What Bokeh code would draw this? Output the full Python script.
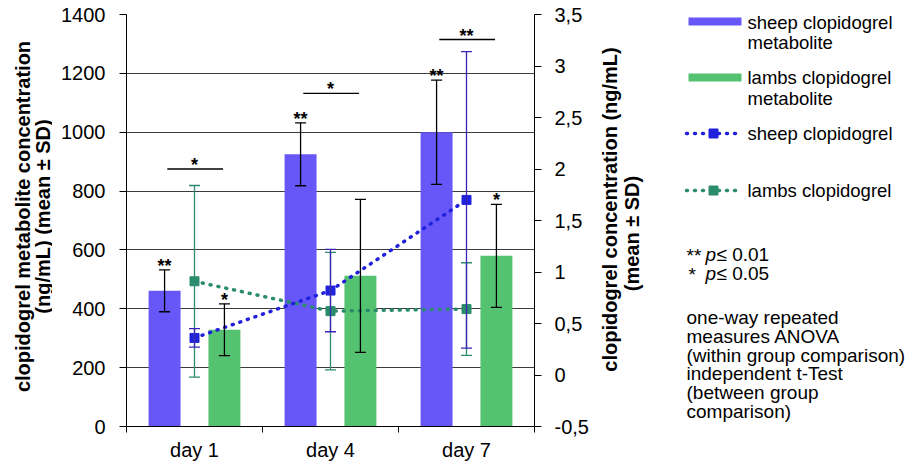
from math import pi
from bokeh.plotting import figure
from bokeh.models import (ColumnDataSource, Range1d, LinearAxis, FixedTicker, Whisker,
                          TeeHead, Label, CustomJSTickFormatter)
from bokeh.layouts import row
from bokeh.embed import file_html
from bokeh.resources import INLINE
from bokeh.core.properties import value

# ---------------- data ----------------
days = ["day 1", "day 4", "day 7"]
sheep_metabolite = [461, 925, 1000]
sheep_metabolite_sd = [71, 107, 177]
lambs_metabolite = [329, 512, 580]
lambs_metabolite_sd = [88, 260, 175]
sheep_clopidogrel = [0.36, 0.82, 1.70]
sheep_clopidogrel_sd = [0.09, 0.40, 1.44]
lambs_clopidogrel = [0.91, 0.62, 0.64]
lambs_clopidogrel_sd = [0.93, 0.57, 0.45]
sheep_metabolite_sig = ["**", "**", "**"]
lambs_metabolite_sig = ["*", "", "*"]
between_sig = ["*", "*", "**"]
between_sig_level = [875, 1132, 1315]
left_ticks = [0, 200, 400, 600, 800, 1000, 1200, 1400]
right_ticks = [-0.5, 0, 0.5, 1, 1.5, 2, 2.5, 3, 3.5]
left_title = ["clopidogrel metabolite concentration", "(ng/mL) (mean ± SD)"]
right_title = ["clopidogrel concentration (ng/mL)", "(mean ± SD)"]

# ---------------- style ----------------
FNAME = "Liberation Sans"
FONT = value(FNAME)
SHEEP_BAR = "#6757F8"
LAMB_BAR = "#55C271"
SHEEP_LINE = "#2121DD"
LAMB_LINE = "#2A8C6C"
SHEEP_ERR = "#3A24B8"
LAMB_ERR = "#2E8B72"
OFF = 0.22
BAR_W = 0.235

# page-pixel geometry of the plotting frame
FRAME_L, FRAME_R, FRAME_T, FRAME_B = 127, 535, 15, 427
PAGE_X0, PAGE_Y0 = 1, 1
H = 466
B_TOP = FRAME_T - PAGE_Y0
B_BOTTOM = H - B_TOP - (FRAME_B - FRAME_T)
W_LEFT = 52
B_LEFT = FRAME_L - PAGE_X0 - W_LEFT
B_RIGHT = 62
W_MAIN = B_LEFT + (FRAME_R - FRAME_L) + B_RIGHT

centers = [i + 0.5 for i in range(len(days))]

src = ColumnDataSource(dict(
    x=centers,
    xs=[c - OFF for c in centers],
    xl=[c + OFF for c in centers],
    xb0=[c - 0.2 for c in centers],
    xb1=[c + 0.21 for c in centers],
    sm=sheep_metabolite,
    sm_up=[v + s for v, s in zip(sheep_metabolite, sheep_metabolite_sd)],
    sm_lo=[v - s for v, s in zip(sheep_metabolite, sheep_metabolite_sd)],
    lm=lambs_metabolite,
    lm_up=[v + s for v, s in zip(lambs_metabolite, lambs_metabolite_sd)],
    lm_lo=[v - s for v, s in zip(lambs_metabolite, lambs_metabolite_sd)],
    sc=sheep_clopidogrel,
    sc_up=[v + s for v, s in zip(sheep_clopidogrel, sheep_clopidogrel_sd)],
    sc_lo=[v - s for v, s in zip(sheep_clopidogrel, sheep_clopidogrel_sd)],
    lc=lambs_clopidogrel,
    lc_up=[v + s for v, s in zip(lambs_clopidogrel, lambs_clopidogrel_sd)],
    lc_lo=[v - s for v, s in zip(lambs_clopidogrel, lambs_clopidogrel_sd)],
    sm_sig=sheep_metabolite_sig,
    lm_sig=lambs_metabolite_sig,
    b_sig=between_sig,
    b_lvl=between_sig_level,
))


def panel(x0, w):
    """A plain figure whose frame uses page-pixel coordinates (for titles, legend, notes)."""
    f = figure(width=w, height=H, x_range=Range1d(x0, x0 + w), y_range=Range1d(FRAME_B, FRAME_T),
               output_backend="svg", toolbar_location=None,
               min_border_left=0, min_border_right=0, min_border_top=B_TOP,
               min_border_bottom=B_BOTTOM)
    f.axis.visible = False
    f.outline_line_color = None
    f.grid.visible = False
    f.background_fill_color = "white"
    f.border_fill_color = "white"
    return f


def title_label(f, xx, yy, t):
    f.add_layout(Label(x=xx, y=yy, text=t, angle=pi / 2, text_align="center",
                       text_baseline="middle", text_font=FNAME, text_font_style="bold",
                       text_font_size="20px", text_color="black"))


# ---------------- left panel: y-axis title ----------------
left = panel(PAGE_X0, W_LEFT)
title_label(left, 23, 217, left_title[0])
title_label(left, 43, 217, left_title[1])

# ---------------- main plot ----------------
p = figure(width=W_MAIN, height=H,
           x_range=Range1d(0, len(days)), y_range=Range1d(left_ticks[0], left_ticks[-1]),
           output_backend="svg", toolbar_location=None,
           min_border_left=B_LEFT, min_border_right=B_RIGHT,
           min_border_top=B_TOP, min_border_bottom=B_BOTTOM)
p.outline_line_color = None
p.background_fill_color = "white"
p.border_fill_color = "white"
p.extra_y_ranges = {"right": Range1d(right_ticks[0], right_ticks[-1])}

p.xgrid.visible = False
p.ygrid.grid_line_color = "#3c3c3c"
p.ygrid.grid_line_width = 1


def style_axis(ax, standoff):
    ax.axis_label = None
    ax.major_label_standoff = standoff
    ax.major_label_text_font = FNAME
    ax.major_label_text_font_size = "20px"
    ax.major_label_text_color = "black"
    ax.axis_line_color = "black"
    ax.major_tick_line_color = "black"


ya = p.yaxis[0]
ya.ticker = FixedTicker(ticks=left_ticks)
ya.major_tick_out = 7
ya.major_tick_in = 0
ya.minor_tick_line_color = None
style_axis(ya, 14)

xa = p.xaxis[0]
xa.ticker = FixedTicker(ticks=centers, minor_ticks=list(range(len(days) + 1)))
xa.formatter = CustomJSTickFormatter(args=dict(days=days), code="return days[Math.floor(tick)];")
xa.major_tick_out = 0
xa.major_tick_in = 0
xa.minor_tick_out = 6
xa.minor_tick_in = 0
style_axis(xa, 6)
xa.minor_tick_line_color = "black"

ra = LinearAxis(y_range_name="right", ticker=FixedTicker(ticks=right_ticks),
                formatter=CustomJSTickFormatter(code="return tick.toString().replace('.', ',');"))
ra.major_tick_out = 7
ra.major_tick_in = 0
ra.minor_tick_line_color = None
style_axis(ra, 13)
p.add_layout(ra, "right")

p.vbar(x="xs", top="sm", bottom=0, width=BAR_W, source=src, fill_color=SHEEP_BAR, line_color=None)
p.vbar(x="xl", top="lm", bottom=0, width=BAR_W, source=src, fill_color=LAMB_BAR, line_color=None)

p.line(x="x", y="lc", source=src, y_range_name="right", line_color=LAMB_LINE, line_width=3.5,
       line_dash="1 7", line_cap="round")
p.line(x="x", y="sc", source=src, y_range_name="right", line_color=SHEEP_LINE, line_width=3.5,
       line_dash="1 7", line_cap="round")


def whisk(base, up, lo, color, rng=None, head=11):
    kw = dict(source=src, base=base, upper=up, lower=lo, line_color=color, line_width=1.3,
              upper_head=TeeHead(size=head, line_color=color, line_width=1.3),
              lower_head=TeeHead(size=head, line_color=color, line_width=1.3),
              level="overlay")
    if rng is not None:
        kw["y_range_name"] = rng
    p.add_layout(Whisker(**kw))


whisk("xs", "sm_up", "sm_lo", "black")
whisk("xl", "lm_up", "lm_lo", "black")
whisk("x", "lc_up", "lc_lo", LAMB_ERR, "right")
whisk("x", "sc_up", "sc_lo", SHEEP_ERR, "right")

p.scatter(x="x", y="lc", source=src, y_range_name="right", marker="square", size=9,
          fill_color=LAMB_LINE, line_color=LAMB_LINE, level="overlay")
p.scatter(x="x", y="sc", source=src, y_range_name="right", marker="square", size=9,
          fill_color=SHEEP_LINE, line_color=SHEEP_LINE, level="overlay")

star_kw = dict(text_font=FONT, text_font_size="18px", text_font_style="bold", text_align="center",
               text_baseline="alphabetic", y_offset=-4, text_color="black")
p.text(x="xs", y="sm_up", text="sm_sig", source=src, **star_kw)
p.text(x="xl", y="lm_up", text="lm_sig", source=src, **star_kw)
p.segment(x0="xb0", x1="xb1", y0="b_lvl", y1="b_lvl", source=src, line_color="black", line_width=1.3)
p.text(x="x", y="b_lvl", text="b_sig", source=src, **star_kw)

# ---------------- right panel: right title, legend, notes ----------------
X0 = PAGE_X0 + W_LEFT + W_MAIN
side = panel(X0, 908 - X0)
title_label(side, 610, 210, right_title[0])
title_label(side, 632, 234, right_title[1])

side.quad(left=[689, 689], right=[742, 742], top=[18, 74], bottom=[26, 82],
          fill_color=[SHEEP_BAR, LAMB_BAR], line_color=None)
for yy, c in [(134, SHEEP_LINE), (191, LAMB_LINE)]:
    side.line(x=[687, 738], y=[yy, yy], line_color=c, line_width=3.5, line_dash="1 7", line_cap="round")
    side.scatter(x=[714], y=[yy], marker="square", size=9, fill_color=c, line_color=c)

leg_text = ["sheep clopidogrel", "metabolite", "lambs clopidogrel", "metabolite",
            "sheep clopidogrel", "lambs clopidogrel"]
side.text(x=[748] * 6, y=[23, 43, 78, 99, 134, 191], text=leg_text, text_font=FONT,
          text_font_size="18.5px", text_align="left", text_baseline="middle", text_color="black")

note_kw = dict(text_font=FONT, text_font_size="19px", text_align="left",
               text_baseline="middle", text_color="black")
side.text(x=[687, 689], y=[256, 275], text=["**", "*"], **note_kw)
side.text(x=[706, 706], y=[255, 274], text=["p", "p"], text_font_style="italic", **note_kw)
side.text(x=[717, 717], y=[255, 274], text=["≤ 0.01", "≤ 0.05"], **note_kw)
para = ["one-way repeated", "measures ANOVA", "(within group comparison)",
        "independent t-Test", "(between group", "comparison)"]
side.text(x=[687] * 6, y=[318, 337, 356, 374, 393, 412], text=para, **note_kw)

layout = row(left, p, side)
open("out.html", "w").write(file_html(layout, INLINE))
